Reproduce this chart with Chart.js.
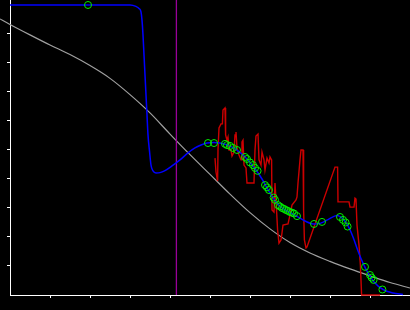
<!DOCTYPE html>
<html>
<head>
<meta charset="utf-8">
<script src="https://cdn.jsdelivr.net/npm/chart.js@4/dist/chart.umd.min.js"></script>
<style>
  html, body { margin: 0; padding: 0; background: #000; }
  canvas { display: block; }
</style>
</head>
<body>
<canvas id="myChart" width="410" height="310"></canvas>
<script>
// tick positions (no labels in the picture)
var xTicks = [10, 20, 30, 40, 50, 60, 70, 80, 90];
var yTicks = [10, 20, 30, 40, 50, 60, 70, 80, 90];

// smooth grey curve
var greyX = [-2.5, 0, 5, 10, 15, 20, 25, 30, 35, 40, 45, 50, 55, 60, 65, 70, 75, 80, 85, 90, 95, 100];
var greyY = [95.2, 93.3, 89.7, 86.2, 82.9, 79.1, 74.7, 69.1, 62.8, 55.5, 48.4, 41.6, 34.8, 28.4, 22.8, 18.1, 14.5, 11.6, 9.0, 6.6, 4.3, 2.4];

// vertical marker
var markerX = 41.6;

// blue fitted line
var blueX = [0, 30, 31.5, 32.25, 32.75, 33, 33.25, 33.5, 33.75, 34, 34.25, 34.5, 34.9, 35.25, 35.75, 36.5, 37.5, 38.75, 40.5, 42.5, 44.5, 46.25, 47.75, 49.25, 51, 52.5, 54, 55.5, 57, 58.5, 60, 61.5, 63, 64.25, 65.5, 66.75, 68, 69.5, 71.75, 73.75, 75.75, 77.5, 79.5, 81.75, 83.25, 84.5, 85.75, 87, 88.25, 89.5, 91, 93.25, 95.75, 98.25];
var blueY = [100, 100, 99.5, 98.8, 97.6, 94.8, 89.7, 82.8, 75.9, 69.0, 62.1, 55.2, 49.3, 44.8, 42.8, 42.1, 42.2, 42.9, 44.5, 46.6, 49.0, 50.7, 51.7, 52.4, 52.6, 52.4, 51.9, 51.0, 49.7, 47.9, 45.7, 43.1, 40.0, 36.9, 34.0, 31.6, 30.0, 28.8, 27.1, 25.5, 24.5, 24.7, 26.0, 27.4, 26.2, 23.8, 20.0, 15.2, 11.0, 7.6, 4.5, 1.9, 0.7, 0.2];

// red raw signal
var redX = [51.25, 51.5, 51.9, 52, 52.25, 52.75, 53.1, 53.25, 53.75, 53.9, 54.25, 54.5, 54.75, 55.25, 55.5, 56, 56.25, 56.5, 56.75, 57.25, 57.75, 58, 58.25, 58.5, 59, 59.25, 61, 61.25, 61.5, 62, 62.25, 62.75, 63, 63.5, 63.75, 64.25, 64.75, 65, 65.4, 65.5, 66, 66.25, 66.5, 66.9, 67.25, 67.75, 68, 68.25, 69.5, 70, 70.5, 71.5, 71.75, 72, 72.5, 72.75, 73.25, 73.4, 73.6, 74, 74.25, 81.25, 81.9, 82, 84.75, 85, 86, 86.25, 86.5, 86.75, 87.25, 87.6, 87.9, 92.5];
var redY = [47.2, 42.4, 39.3, 50.0, 57.6, 59.0, 59.0, 63.8, 64.5, 55.2, 53.4, 54.5, 50.0, 50.0, 47.9, 49.3, 55.2, 56.2, 50.7, 48.3, 46.6, 52.8, 53.4, 44.8, 43.8, 38.6, 38.6, 50.0, 54.8, 55.5, 46.6, 44.8, 49.3, 46.6, 43.1, 47.2, 45.5, 47.6, 46.6, 29.3, 28.6, 38.6, 32.8, 22.4, 17.9, 19.0, 21.4, 24.1, 24.5, 27.6, 31.0, 32.8, 33.8, 38.6, 46.6, 50.0, 50.0, 29.3, 19.0, 16.2, 16.6, 44.1, 44.1, 32.1, 32.1, 30.3, 30.3, 33.4, 33.1, 24.1, 17.2, 10.3, 0, 0];

// green sample circles
var ptsX = [19.5, 49.5, 51, 53.75, 54.25, 55, 55.75, 56.75, 58.75, 59.25, 60, 60.75, 61.25, 61.9, 63.75, 64.25, 64.75, 65.9, 66.25, 67, 67.5, 68, 68.5, 69, 69.5, 70, 70.5, 71, 71.75, 76, 78, 82.5, 83.25, 83.9, 84.4, 88.75, 90, 90.4, 90.9, 93.1];
var ptsY = [100, 52.4, 52.4, 52.1, 51.7, 51.4, 50.7, 50.0, 47.6, 46.9, 45.7, 44.8, 43.8, 42.8, 37.9, 37.1, 36.2, 33.6, 32.8, 31.0, 30.5, 30.0, 29.7, 29.3, 29.0, 28.6, 28.4, 28.1, 27.2, 24.5, 25.2, 26.9, 25.9, 25.0, 23.6, 9.7, 6.9, 6.0, 5.2, 1.9];

function pairs(xs, ys) {
    return xs.map(function (x, i) { return { x: x, y: ys[i] }; });
}

var axisStyle = {
    grid: { display: true, drawOnChartArea: false, drawTicks: true, tickLength: 3, color: '#fff', lineWidth: 1 },
    border: { display: true, color: '#fff', width: 1 },
    ticks: { display: false }
};

let ctx = document.getElementById('myChart').getContext('2d');

let chart = new Chart(ctx, {
    type: 'scatter',
    data: {
        datasets: [
            {
                data: pairs(greyX, greyY),
                showLine: true,
                borderColor: '#a0a0a0',
                borderWidth: 1.2,
                pointRadius: 0,
                cubicInterpolationMode: 'monotone',
                clip: false,
                order: 5
            },
            {
                data: [{ x: markerX, y: 0 }, { x: markerX, y: 101.72 }],
                showLine: true,
                borderColor: '#990099',
                borderWidth: 1.3,
                pointRadius: 0,
                clip: false,
                order: 4
            },
            {
                data: pairs(redX, redY),
                showLine: true,
                borderColor: '#cc0000',
                borderWidth: 1.4,
                pointRadius: 0,
                clip: false,
                order: 3
            },
            {
                data: pairs(blueX, blueY),
                showLine: true,
                borderColor: '#0000ff',
                borderWidth: 1.5,
                pointRadius: 0,
                cubicInterpolationMode: 'monotone',
                clip: false,
                order: 2
            },
            {
                data: pairs(ptsX, ptsY),
                showLine: false,
                pointRadius: 3.5,
                pointBorderWidth: 1,
                pointBorderColor: '#00ee00',
                pointBackgroundColor: 'rgba(0,0,0,0)',
                clip: false,
                order: 1
            }
        ]
    },
    options: {
        responsive: false,
        animation: false,
        layout: { padding: 0, autoPadding: false },
        plugins: { legend: { display: false }, tooltip: { enabled: false } },
        scales: {
            x: Object.assign({
                type: 'linear', min: 0, max: 100,
                afterBuildTicks: function (s) { s.ticks = xTicks.map(function (v) { return { value: v }; }); },
                afterFit: function (s) { s.height = 15; }
            }, axisStyle),
            y: Object.assign({
                type: 'linear', min: 0, max: 101.72,
                afterBuildTicks: function (s) { s.ticks = yTicks.map(function (v) { return { value: v }; }); },
                afterFit: function (s) { s.width = 10; }
            }, axisStyle)
        }
    }
});
</script>
</body>
</html>
